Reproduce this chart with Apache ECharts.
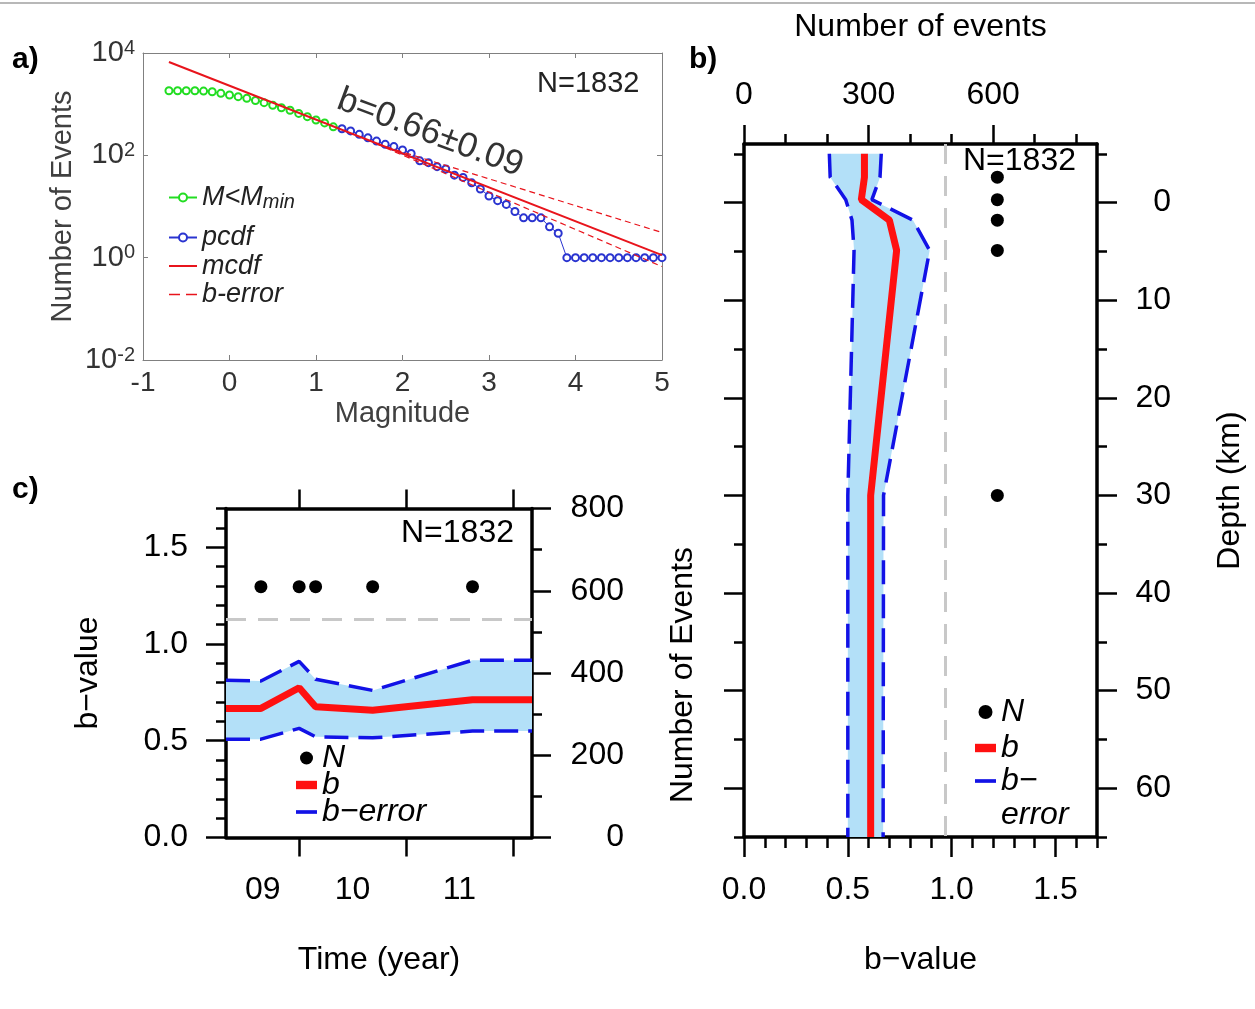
<!DOCTYPE html>
<html><head><meta charset="utf-8">
<script src="https://cdn.jsdelivr.net/npm/echarts@6/dist/echarts.min.js"></script>
<style>html,body{margin:0;padding:0;background:#fff}#c{width:1255px;height:1009px}</style>
</head><body><div id="c"></div>
<script>
// ---------------- DATA ----------------
// Panel a: frequency-magnitude distribution
const magGreen = [-0.7,-0.6,-0.5,-0.4,-0.3,-0.2,-0.1,0.0,0.1,0.2,0.3,0.4,0.5,0.6,0.7,0.8,0.9,1.0,1.1,1.2];
const cntGreen = [1832,1832,1830,1826,1800,1750,1630,1510,1400,1300,1180,1070,950,850,760,660,570,490,430,360];
const magBlue = [1.3,1.4,1.5,1.6,1.7,1.8,1.9,2.0,2.1,2.2,2.3,2.4,2.5,2.6,2.7,2.8,2.9,3.0,3.1,3.2,3.3,3.4,3.5,3.6,3.7,3.8,3.9,4.0,4.1,4.2,4.3,4.4,4.5,4.6,4.7,4.8,4.9,5.0];
const cntBlue = [330,300,257,220,190,164,148,127,109,78,72,60,54,41,37,29,22,16,13,11,8,6,6,6,4,3,1,1,1,1,1,1,1,1,1,1,1,1];
const mcdfMag = [-0.7, 5.0];
const mcdfCnt = [6670, 1.12];
const errMag = [1.7, 5.0];
const errUpperCnt = [167, 3.1];
const errLowerCnt = [167, 0.67];
const magTicks = [-1,0,1,2,3,4,5];
const countTicks = [0.01, 1, 100, 10000];

// Panel b: b-value vs depth
const depthB = [-5, -2.6, -0.3, 1.8, 4.9, 30, 65];
const bDepth = [0.58, 0.58, 0.565, 0.70, 0.735, 0.61, 0.61];
const bLowDepth = [0.411, 0.415, 0.49, 0.52, 0.53, 0.50, 0.50];
const bUpDepth = [0.661, 0.655, 0.616, 0.814, 0.894, 0.672, 0.67];
const nDepthAt = [-2.6, -0.3, 1.8, 4.9, 30];
const nDepth = [610, 610, 610, 610, 610];
const grayB = 0.971;
const bTicksMajor = [0, 0.5, 1.0, 1.5];
const bTicksMinor = [0.1,0.2,0.3,0.4,0.6,0.7,0.8,0.9,1.1,1.2,1.3,1.4,1.6,1.7];
const nTicksMajorB = [0, 300, 600];
const nTicksMinorB = [100, 200, 400, 500, 700, 800];
const depthTicksMajor = [0, 10, 20, 30, 40, 50, 60];
const depthTicksMinor = [-5, 5, 15, 25, 35, 45, 55, 65];

// Panel c: b-value vs time
const timeC = [2009.315, 2009.642, 2010.0, 2010.154, 2010.688, 2011.623, 2012.18];
const bTime = [0.667, 0.667, 0.774, 0.676, 0.658, 0.712, 0.712];
const bLowTime = [0.508, 0.508, 0.564, 0.520, 0.515, 0.550, 0.550];
const bUpTime = [0.813, 0.809, 0.910, 0.818, 0.760, 0.916, 0.916];
const nTimeAt = [2009.642, 2010.0, 2010.154, 2010.688, 2011.623];
const nTime = [610, 610, 610, 610, 610];
const grayC = 1.132;
const yearTicks = [2010, 2011, 2012];
const yearLabels = ['09', '10', '11'];
const yearLabelAt = [2009.66, 2010.5, 2011.5];
const nTicksMajorC = [0, 200, 400, 600, 800];
const nTicksMinorC = [100, 300, 500, 700];

// ---------------- HELPERS ----------------
const FONT = "'Liberation Sans', Arial, Helvetica, sans-serif";
const GRAY = '#808080';
const TXT_A = '#333333';
const BAND = '#b3e0f8';
const RED = '#ff1010';
const BLUE = '#1212e6';
function zip(a, b) { return a.map((v, i) => [v, b[i]]); }
function bandRender(n) {
  return function (params, api) {
    if (params.dataIndex !== 0) return null;
    const lo = [], up = [];
    for (let i = 0; i < n; i++) {
      lo.push(api.coord([api.value(0, i), api.value(1, i)]));
      up.push(api.coord([api.value(2, i), api.value(3, i)]));
    }
    return { type: 'polygon', shape: { points: lo.concat(up.reverse()) }, style: { fill: BAND } };
  };
}
function lab(size, extra) { return Object.assign({ fontSize: size, fontFamily: FONT, color: '#000' }, extra || {}); }
function bAxis(o) {
  const ax = {
    type: 'value', gridIndex: o.grid, position: o.pos, min: o.min, max: o.max, inverse: !!o.inverse,
    splitLine: { show: false },
    axisLine: { show: o.line !== false, onZero: false, lineStyle: { color: '#000', width: 3.5 } },
    axisTick: { show: !!o.ticks, inside: false, length: o.tickLen || 20, customValues: o.ticks, lineStyle: { color: '#000', width: 2.5 } },
    axisLabel: o.labels ? Object.assign({ show: true, customValues: o.labels, formatter: o.fmt, margin: o.margin, fontSize: 32, fontFamily: FONT, color: '#000' }, o.labelExtra || {}) : { show: false }
  };
  if (o.name) {
    ax.name = o.name; ax.nameLocation = 'middle'; ax.nameGap = o.nameGap;
    ax.nameTextStyle = lab(32);
    if (o.nameRotate != null) ax.nameRotate = o.nameRotate;
  }
  return ax;
}

// ---------------- OPTION ----------------
const gridA = { left: 143, top: 53, width: 519, height: 307, outerBoundsMode: 'none' };
const gridB = { left: 744, top: 144, width: 353, height: 693, outerBoundsMode: 'none' };
const gridC = { left: 226, top: 508.5, width: 306, height: 329, outerBoundsMode: 'none' };

const option = {
  animation: false,
  backgroundColor: '#fff',
  textStyle: { fontFamily: FONT },
  grid: [gridA, gridB, Object.assign({}, gridB), gridC, Object.assign({}, gridC)],
  xAxis: [
    { type: 'value', gridIndex: 0, position: 'bottom', min: -1, max: 5, interval: 1,
      splitLine: { show: false },
      axisLine: { show: true, onZero: false, lineStyle: { color: GRAY, width: 1 } },
      axisTick: { show: true, inside: true, length: 5, lineStyle: { color: GRAY } },
      axisLabel: { show: true, margin: 9, fontSize: 28, fontFamily: FONT, color: TXT_A },
      name: 'Magnitude', nameLocation: 'middle', nameGap: 39, nameTextStyle: lab(29, { color: '#404040' }) },
    { type: 'value', gridIndex: 0, position: 'top', min: -1, max: 5, interval: 1,
      splitLine: { show: false },
      axisLine: { show: true, onZero: false, lineStyle: { color: GRAY, width: 1 } },
      axisTick: { show: true, inside: true, length: 5, lineStyle: { color: GRAY } },
      axisLabel: { show: false } },
    bAxis({ grid: 1, pos: 'bottom', min: 0, max: 1.7, ticks: bTicksMajor, labels: bTicksMajor, fmt: v => v.toFixed(1), margin: 37, name: 'b\u2212value', nameGap: 107 }),
    bAxis({ grid: 1, pos: 'top', min: 0, max: 850, ticks: nTicksMajorB, tickLen: 19, labels: nTicksMajorB, fmt: v => String(v), margin: 33, name: 'Number of events', nameGap: 101 }),
    bAxis({ grid: 2, pos: 'bottom', min: 0, max: 1.7, ticks: bTicksMinor, tickLen: 11, line: false }),
    bAxis({ grid: 2, pos: 'top', min: 0, max: 850, ticks: nTicksMinorB, tickLen: 10, line: false }),
    bAxis({ grid: 3, pos: 'bottom', min: 2009.315, max: 2012.18, ticks: yearTicks, tickLen: 19, labels: yearLabelAt,
      fmt: v => { const i = yearLabelAt.findIndex(p => Math.abs(p - v) < 1e-6); return i >= 0 ? yearLabels[i] : ''; },
      margin: 37, name: 'Time (year)', nameGap: 107 }),
    bAxis({ grid: 3, pos: 'top', min: 2009.315, max: 2012.18, ticks: yearTicks, tickLen: 19 }),
    { type: 'value', gridIndex: 4, show: false, min: 2009.315, max: 2012.18 }
  ],
  yAxis: [
    { type: 'log', logBase: 10, gridIndex: 0, position: 'left', min: 0.01, max: 10000,
      splitLine: { show: false }, minorTick: { show: false },
      axisLine: { show: true, onZero: false, lineStyle: { color: GRAY, width: 1 } },
      axisTick: { show: true, inside: true, length: 5, customValues: countTicks, lineStyle: { color: GRAY } },
      axisLabel: { show: true, customValues: countTicks, margin: 8,
        formatter: v => '{b|10}{s|' + Math.round(Math.log10(v)) + '}',
        rich: { b: { fontSize: 29, fontFamily: FONT, color: TXT_A, lineHeight: 30 },
                s: { fontSize: 20, fontFamily: FONT, color: TXT_A, verticalAlign: 'top', lineHeight: 20 } } },
      name: 'Number of Events', nameLocation: 'middle', nameGap: 66, nameTextStyle: lab(29, { color: '#404040' }) },
    { type: 'log', logBase: 10, gridIndex: 0, position: 'right', min: 0.01, max: 10000,
      splitLine: { show: false },
      axisLine: { show: true, onZero: false, lineStyle: { color: GRAY, width: 1 } },
      axisTick: { show: true, inside: true, length: 5, customValues: countTicks, lineStyle: { color: GRAY } },
      axisLabel: { show: false } },
    bAxis({ grid: 1, pos: 'right', min: -6, max: 65, inverse: true, ticks: depthTicksMajor, labels: depthTicksMajor,
      fmt: v => String(v), margin: 74, labelExtra: { align: 'right' }, name: 'Depth (km)', nameGap: 117, nameRotate: 90 }),
    bAxis({ grid: 1, pos: 'left', min: -6, max: 65, inverse: true, ticks: depthTicksMajor }),
    bAxis({ grid: 2, pos: 'right', min: -6, max: 65, inverse: true, ticks: depthTicksMinor, tickLen: 10, line: false }),
    bAxis({ grid: 2, pos: 'left', min: -6, max: 65, inverse: true, ticks: depthTicksMinor, tickLen: 10, line: false }),
    bAxis({ grid: 3, pos: 'left', min: 0, max: 1.7, ticks: bTicksMajor, labels: bTicksMajor, fmt: v => v.toFixed(1), margin: 38,
      name: 'b\u2212value', nameGap: 122 }),
    bAxis({ grid: 3, pos: 'right', min: 0, max: 800, ticks: nTicksMajorC, tickLen: 19, labels: nTicksMajorC, fmt: v => String(v),
      margin: 92, labelExtra: { align: 'right' } }),
    bAxis({ grid: 4, pos: 'left', min: 0, max: 1.7, ticks: bTicksMinor, tickLen: 10, line: false }),
    bAxis({ grid: 4, pos: 'right', min: 0, max: 800, ticks: nTicksMinorC, tickLen: 10, line: false })
  ],
  legend: [
    { orient: 'vertical', left: 168, top: 184, padding: 0, itemWidth: 28, itemHeight: 10, selectedMode: false,
      itemStyle: { borderWidth: 0 },
      data: ['M<Mmin'],
      formatter: () => '{i|M<M}{sub|min}',
      textStyle: { rich: { i: { fontSize: 27, fontStyle: 'italic', fontFamily: FONT, color: '#222', lineHeight: 30 },
                           sub: { fontSize: 20, fontStyle: 'italic', fontFamily: FONT, color: '#222', lineHeight: 5, verticalAlign: 'bottom' } } } },
    { orient: 'vertical', left: 168, top: 224, padding: 0, itemWidth: 28, itemHeight: 10, itemGap: 1.5, selectedMode: false,
      itemStyle: { borderWidth: 0 },
      data: ['pcdf', { name: 'mcdf', icon: 'path://M0,0h28v2h-28z' }, { name: 'b-error', icon: 'path://M0,0h11v1.4h-11zM17,0h11v1.4h-11z' }],
      formatter: n => '{i|' + n + '}',
      textStyle: { rich: { i: { fontSize: 27, fontStyle: 'italic', fontFamily: FONT, color: '#222', lineHeight: 30 } } } },
    { orient: 'vertical', left: 975, top: 695, padding: 0, itemWidth: 21, itemHeight: 14, itemGap: 2, selectedMode: false,
      itemStyle: { borderWidth: 0 },
      data: [{ name: 'N', icon: 'circle' }, { name: 'b', icon: 'path://M0,0h20v8h-20z' }],
      textStyle: { fontSize: 32, fontStyle: 'italic', fontFamily: FONT, color: '#000', lineHeight: 34 } },
    { orient: 'vertical', left: 975, top: 730, padding: 0, itemWidth: 21, itemHeight: 14, selectedMode: false,
      itemStyle: { borderWidth: 0 },
      data: [{ name: 'b\u2212error', icon: 'path://M0,0h20v3.5h-20z' }],
      formatter: () => '\nb\u2212\nerror',
      textStyle: { fontSize: 32, fontStyle: 'italic', fontFamily: FONT, color: '#000', lineHeight: 34 } },
    { orient: 'vertical', left: 296, top: 742, padding: 0, itemWidth: 21, itemHeight: 13, itemGap: -5, selectedMode: false,
      itemStyle: { borderWidth: 0 },
      data: [{ name: 'N', icon: 'circle' }, { name: 'b', icon: 'path://M0,0h20v8h-20z' }, { name: 'b\u2212error', icon: 'path://M0,0h20v3.5h-20z' }],
      textStyle: { fontSize: 32, fontStyle: 'italic', fontFamily: FONT, color: '#000', lineHeight: 27.5 } }
  ],
  series: [
    { type: 'line', name: 'M<Mmin', xAxisIndex: 0, yAxisIndex: 0, data: zip(magGreen, cntGreen),
      symbol: 'emptyCircle', symbolSize: 7, lineStyle: { color: '#22dd22', width: 1 }, itemStyle: { color: '#22dd22', borderWidth: 1 }, z: 3 },
    { type: 'line', name: 'pcdf', xAxisIndex: 0, yAxisIndex: 0, data: zip(magBlue, cntBlue),
      symbol: 'emptyCircle', symbolSize: 7, lineStyle: { color: '#2a34d0', width: 1 }, itemStyle: { color: '#2a34d0', borderWidth: 1 }, z: 3 },
    { type: 'line', name: 'mcdf', xAxisIndex: 0, yAxisIndex: 0, data: zip(mcdfMag, mcdfCnt), symbol: 'none',
      lineStyle: { color: '#e8141c', width: 2 }, itemStyle: { color: '#e8141c' }, z: 4 },
    { type: 'line', name: 'b-error', xAxisIndex: 0, yAxisIndex: 0, data: zip(errMag, errUpperCnt), symbol: 'none',
      lineStyle: { color: '#e8141c', width: 1.2, type: [6, 4] }, itemStyle: { color: '#e8141c' }, z: 4 },
    { type: 'line', name: 'b-error', xAxisIndex: 0, yAxisIndex: 0, data: zip(errMag, errLowerCnt), symbol: 'none',
      lineStyle: { color: '#e8141c', width: 1.2, type: [6, 4] }, itemStyle: { color: '#e8141c' }, z: 4 },
    { type: 'custom', name: 'bandB', xAxisIndex: 2, yAxisIndex: 2, z: 1, silent: true,
      data: depthB.map((d, i) => [bLowDepth[i], d, bUpDepth[i], d]), renderItem: bandRender(depthB.length) },
    { type: 'line', name: 'b\u2212error', xAxisIndex: 2, yAxisIndex: 2, data: zip(bLowDepth, depthB), symbol: 'none',
      lineStyle: { color: BLUE, width: 3.5, type: [24, 10] }, itemStyle: { color: BLUE }, z: 2 },
    { type: 'line', name: 'b\u2212error', xAxisIndex: 2, yAxisIndex: 2, data: zip(bUpDepth, depthB), symbol: 'none',
      lineStyle: { color: BLUE, width: 3.5, type: [24, 10] }, itemStyle: { color: BLUE }, z: 2 },
    { type: 'line', name: 'b', xAxisIndex: 2, yAxisIndex: 2, data: zip(bDepth, depthB), symbol: 'none',
      lineStyle: { color: RED, width: 7 }, itemStyle: { color: RED }, z: 3,
      markLine: { silent: true, symbol: ['none', 'none'], label: { show: false },
        lineStyle: { color: '#c8c8c8', width: 3, type: [20, 12] }, data: [{ xAxis: grayB }] } },
    { type: 'scatter', name: 'N', xAxisIndex: 3, yAxisIndex: 2, data: zip(nDepth, nDepthAt), symbolSize: 13,
      itemStyle: { color: '#000', opacity: 1 }, z: 4 },
    { type: 'custom', name: 'bandC', xAxisIndex: 6, yAxisIndex: 6, z: 1, silent: true,
      data: timeC.map((t, i) => [t, bLowTime[i], t, bUpTime[i]]), renderItem: bandRender(timeC.length) },
    { type: 'line', name: 'b\u2212error', xAxisIndex: 6, yAxisIndex: 6, data: zip(timeC, bLowTime), symbol: 'none',
      lineStyle: { color: BLUE, width: 3.5, type: [24, 10] }, itemStyle: { color: BLUE }, z: 2 },
    { type: 'line', name: 'b\u2212error', xAxisIndex: 6, yAxisIndex: 6, data: zip(timeC, bUpTime), symbol: 'none',
      lineStyle: { color: BLUE, width: 3.5, type: [24, 10] }, itemStyle: { color: BLUE }, z: 2 },
    { type: 'line', name: 'b', xAxisIndex: 6, yAxisIndex: 6, data: zip(timeC, bTime), symbol: 'none',
      lineStyle: { color: RED, width: 7 }, itemStyle: { color: RED }, z: 3,
      markLine: { silent: true, symbol: ['none', 'none'], label: { show: false },
        lineStyle: { color: '#c8c8c8', width: 3, type: [20, 12] }, data: [{ yAxis: grayC }] } },
    { type: 'scatter', name: 'N', xAxisIndex: 6, yAxisIndex: 7, data: zip(nTimeAt, nTime), symbolSize: 13,
      itemStyle: { color: '#000', opacity: 1 }, z: 4 }
  ],
  graphic: [
    { type: 'line', shape: { x1: 0, y1: 3, x2: 1255, y2: 3 }, style: { stroke: '#a0a0a0', lineWidth: 1.5 } },
    { type: 'text', x: 12, y: 60, style: { text: 'a)', fontSize: 30, fontWeight: 'bold', fontFamily: FONT, fill: '#000', verticalAlign: 'middle' } },
    { type: 'text', x: 689, y: 60, style: { text: 'b)', fontSize: 30, fontWeight: 'bold', fontFamily: FONT, fill: '#000', verticalAlign: 'middle' } },
    { type: 'text', x: 12, y: 490, style: { text: 'c)', fontSize: 30, fontWeight: 'bold', fontFamily: FONT, fill: '#000', verticalAlign: 'middle' } },
    { type: 'text', x: 537, y: 84, style: { text: 'N=1832', fontSize: 29, fontFamily: FONT, fill: '#222', verticalAlign: 'middle' } },
    { type: 'text', x: 963, y: 161, z: 10, style: { text: 'N=1832', fontSize: 32, fontFamily: FONT, fill: '#000', verticalAlign: 'middle' } },
    { type: 'text', x: 401, y: 533, style: { text: 'N=1832', fontSize: 32, fontFamily: FONT, fill: '#000', verticalAlign: 'middle' } },
    { type: 'text', x: 430, y: 133, rotation: -20.5 * Math.PI / 180,
      style: { text: 'b=0.66\u00b10.09', fontSize: 35, fontFamily: FONT, fill: '#333', align: 'center', verticalAlign: 'middle' } },
    { type: 'text', x: 683, y: 675, rotation: Math.PI / 2,
      style: { text: 'Number of Events', fontSize: 32, fontFamily: FONT, fill: '#000', align: 'center', verticalAlign: 'middle' } }
  ]
};

const chart = echarts.init(document.getElementById('c'), null, { renderer: 'canvas', width: 1255, height: 1009 });
chart.setOption(option);
</script></body></html>
